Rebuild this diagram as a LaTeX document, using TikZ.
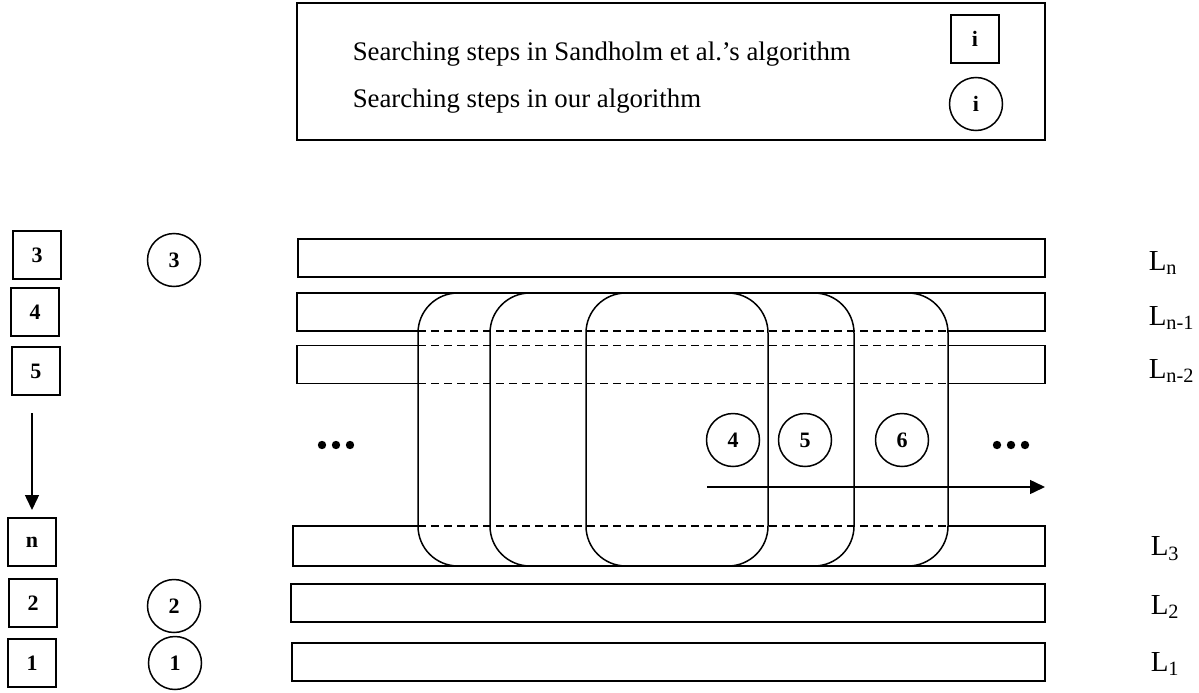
\documentclass[tikz,border=0pt]{standalone}
\usepackage{fontspec}
\setmainfont{Liberation Serif}
\usepackage{tikz}
\usetikzlibrary{arrows.meta,positioning}

\begin{document}
\begin{tikzpicture}[
    x=1pt, y=-1pt,
    line width=1.5pt,
    stepsq/.style={draw, minimum size=48pt, inner sep=0pt, outer sep=0pt,
                   font=\fontsize{22}{22}\selectfont\bfseries},
    stepcirc/.style={draw, circle, minimum size=53pt, inner sep=0pt, outer sep=0pt,
                     font=\fontsize{22}{22}\selectfont\bfseries},
    layer/.style={draw, minimum height=38pt, inner sep=0pt, outer sep=0pt},
    layerbox/.style={minimum height=38pt, inner sep=0pt, outer sep=0pt},
    window/.style={draw, rounded corners=40pt, minimum height=273pt,
                   inner sep=0pt, outer sep=0pt},
    lbl/.style={anchor=west, inner sep=0pt, font=\fontsize{29}{29}\selectfont},
    txt/.style={anchor=base west, inner sep=0pt, font=\fontsize{26.8}{27}\selectfont},
    arr/.style={-{Triangle[length=15pt,width=14pt]}}
]
\path[use as bounding box, fill=white] (0,0) rectangle (1199,693);

% legend
\node[draw, minimum width=748pt, minimum height=137pt, inner sep=0pt] (lgd) at (671,71.5) {};
\node[txt] (t1) at (352,60) {Searching steps in Sandholm et al.'s algorithm};
\node[txt] (t2) at (352,107) {Searching steps in our algorithm};
\node[stepsq] (li) at (975,39) {i};
\node[stepcirc] (ci) at (976,104) {i};

% layers
\node[layer, minimum width=747pt] (ln) at (671.5,258) {};
\node[layerbox, minimum width=748pt] (ln1) at (671,312) {};
\node[layerbox, minimum width=748pt] (ln2) at (671,364.5) {};
\node[layerbox, minimum width=752pt, minimum height=40pt] (l3) at (669,546) {};
\node[layer, minimum width=754pt] (l2) at (668,603) {};
\node[layer, minimum width=753pt] (l1) at (668.5,662) {};

% sliding windows
\node[window, minimum width=530pt] (w1) at (683,429.5) {};
\node[window, minimum width=364pt] (w2) at (672,429.5) {};
\node[window, minimum width=182pt] (w3) at (677,429.5) {};

% layer edges, dashed inside the windows
\draw (w1.west |- ln1.south) -- (ln1.south west) -- (ln1.north west)
      -- (ln1.north east) -- (ln1.south east) -- (w1.east |- ln1.south);
\draw (w1.west |- ln2.north) -- (ln2.north west) -- (ln2.south west) -- (w1.west |- ln2.south);
\draw (w1.east |- ln2.north) -- (ln2.north east) -- (ln2.south east) -- (w1.east |- ln2.south);
\draw (w1.west |- l3.north) -- (l3.north west) -- (l3.south west)
      -- (l3.south east) -- (l3.north east) -- (w1.east |- l3.north);
\foreach \a in {ln1.south, ln2.north, ln2.south, l3.north}
  \draw[dash pattern=on 8pt off 5pt] (w1.west |- \a) -- (w1.east |- \a);

% layer names
\node[lbl] (nln) at (1148,263) {L\textsubscript{n}};
\node[lbl] (nln1) at (1148,318) {L\textsubscript{n-1}};
\node[lbl] (nln2) at (1148,371) {L\textsubscript{n-2}};
\node[lbl] (nl3) at (1150,549) {L\textsubscript{3}};
\node[lbl] (nl2) at (1150,607) {L\textsubscript{2}};
\node[lbl] (nl1) at (1150,664) {L\textsubscript{1}};

% steps of Sandholm et al.
\node[stepsq] (s3) at (37,255) {3};
\node[stepsq] (s4) at (35,312) {4};
\node[stepsq] (s5) at (36,371) {5};
\node[stepsq] (sn) at (32,542) {n};
\node[stepsq] (s2) at (33,603) {2};
\node[stepsq] (s1) at (32,663) {1};
\draw[arr, shorten <=18pt, shorten >=8pt] (sn |- s5.south) -- (sn.north);

% our steps
\node[stepcirc] (c3) at (174,260) {3};
\node[stepcirc] (c2) at (174,606) {2};
\node[stepcirc] (c1) at (175,663) {1};
\node[stepcirc] (c4) at (733,440) {4};
\node[stepcirc] (c5) at (805,440) {5};
\node[stepcirc] (c6) at (902,440) {6};

\coordinate (mvs) at (707,487);
\coordinate (mve) at (1045,487);
\draw[arr] (mvs) -- (mve);

% dots
\foreach \x in {322,336,350,997,1011,1025}
  \fill (\x,445) circle (4.2pt);
\end{tikzpicture}
\end{document}
